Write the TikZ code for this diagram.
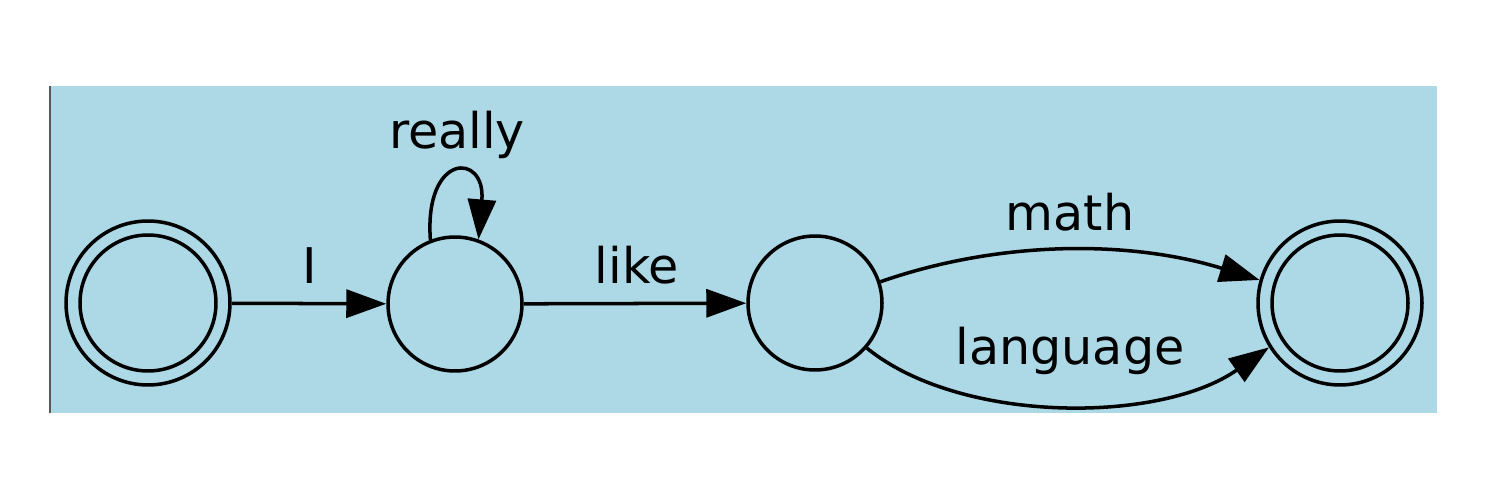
\documentclass[tikz,border=0pt]{standalone}
\usepackage{fontspec}
\setmainfont{DejaVu Sans}
\usetikzlibrary{arrows.meta}
\definecolor{bgblue}{RGB}{173,216,230}
\begin{document}
\begin{tikzpicture}[x=0.02cm,y=-0.02cm,
  lw/.style={line width=2pt},
  state/.style={circle, draw, lw, inner sep=0pt, minimum size=2.68cm},
  final/.style={state, minimum size=3.28cm},
  arr/.style={lw, -{Triangle[length=0.8cm,width=0.56cm]}},
  lab/.style={anchor=base, inner sep=0pt, font=\fontsize{28}{33}\selectfont}]
\useasboundingbox (0,0) rectangle (1500,500);
\fill[bgblue] (50,86) rectangle (1437,413);
\draw[gray!70!black, line width=0.8pt] (50,86) -- (50,413);
% states
\node[final] (n0) at (148,303) {};
\node[state] (n1) at (455,304) {};
\node[state] (n2) at (815,303) {};
\node[final] (n3) at (1340,303) {};
\draw[lw] (n0.center) circle[radius=1.36cm];
\draw[lw] (n3.center) circle[radius=1.36cm];
% edges
\draw[arr] (n0) -- (n1);
\draw[arr] (n1) -- (n2);
\draw[arr] (n1.111) .. controls (424,152) and (486,152) .. (n1.70);
\draw[arr] (n2.18) .. controls (1000,240) and (1130,240) .. (n3.164);
\draw[arr] (n2.-41) .. controls (960,424) and (1160,424) .. (n3.-148);
% labels
\node[lab] (tI) at (310,283) {I};
\node[lab] (tlike) at (637,283) {like};
\node[lab] (treally) at (457,148) {really};
\node[lab] (tmath) at (1070,230) {math};
\node[lab] (tlang) at (1070,364) {language};
\end{tikzpicture}
\end{document}
